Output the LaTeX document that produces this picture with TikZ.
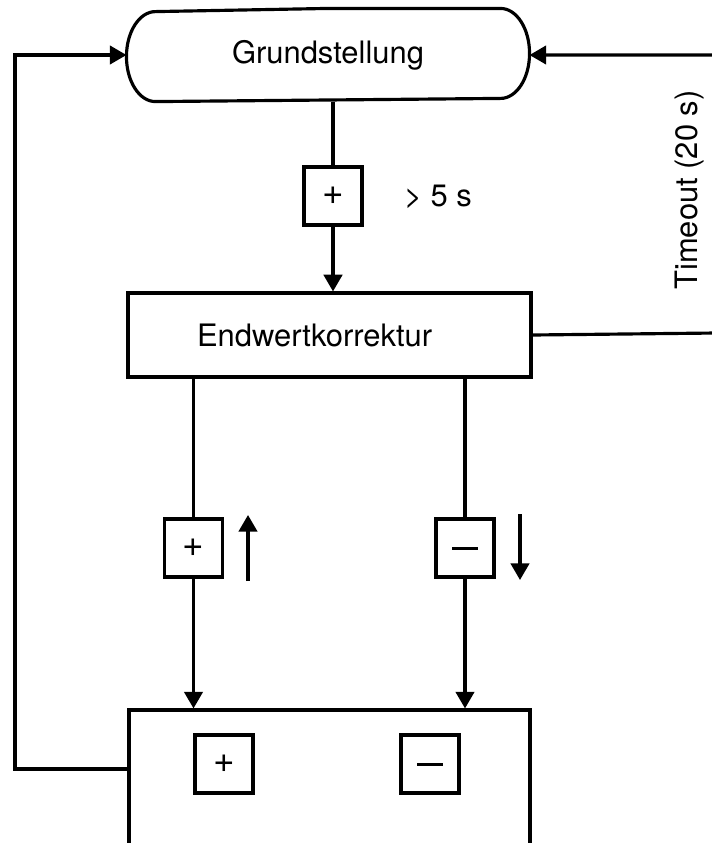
\documentclass[tikz,border=0pt]{standalone}
\usepackage{fontspec}
\setmainfont{TeX Gyre Heros}
\usetikzlibrary{arrows.meta}

\begin{document}
\begin{tikzpicture}[x=0.02cm,y=-0.02cm,line width=1.8pt,
  >={Triangle[length=9.5pt,width=10.5pt]},
  every node/.style={font=\fontsize{17.6}{21}\selectfont},
  box/.style={draw,rectangle,inner sep=0pt},
  key/.style={box,minimum size=1.16cm,font=\fontsize{21}{21}\selectfont}]
\useasboundingbox (0,0) rectangle (712,843);
% Zustaende
\node[minimum width=8cm,minimum height=1.8cm] (grund) at (328,55) {Grundstellung};
\draw (grund.north) -- ([xshift=-0.58cm]grund.north east)
  arc[start angle=90,end angle=-90,x radius=0.58cm,y radius=0.9cm]
  -- ([xshift=0.58cm]grund.south west)
  arc[start angle=270,end angle=90,x radius=0.58cm,y radius=0.9cm] -- cycle;
\node[box,minimum width=8.06cm,minimum height=1.68cm,text width=5.3cm,inner xsep=1.38cm,align=left] (endw) at (329.5,335) {Endwertkorrektur};
\node[box,minimum width=8.02cm,minimum height=4cm] (anz) at (329.5,810) {};
% Tasten
\node[key] (tplus) at (333,196) {+};
\node (lang) at (438,197) {> 5 s};
\node[rotate=90] (tout) at (690,190) {Timeout (20 s)};
\node[key] (plus) at (193.5,548) {+};
\node[key] (minus) at (465,548) {\rule{0.52cm}{0.06cm}};
\node[key] (aplus) at (224,764) {+};
\node[key] (aminus) at (430,764) {\rule{0.52cm}{0.06cm}};
\coordinate (auf1) at (248,581);
\coordinate (auf2) at (248,515);
\coordinate (ab1) at (520,514);
\coordinate (ab2) at (520,580);
\coordinate (rueck) at (15,769);
\coordinate (zeit) at (716,333);
% Uebergaenge
\draw (grund.south -| tplus) -- (tplus);
\draw[->] (tplus) -- (tplus |- endw.north);
\draw (endw.south -| plus) -- (plus);
\draw[->] (plus) -- (plus |- anz.north);
\draw (endw.south -| minus) -- (minus);
\draw[->] (minus) -- (minus |- anz.north);
\draw[->] (auf1) -- (auf2);
\draw[->] (ab1) -- (ab2);
\draw[->] (rueck -| anz.west) -- (rueck) |- (grund.west);
\draw[->] (endw.east) -- (zeit) |- (grund.east);
\end{tikzpicture}
\end{document}
